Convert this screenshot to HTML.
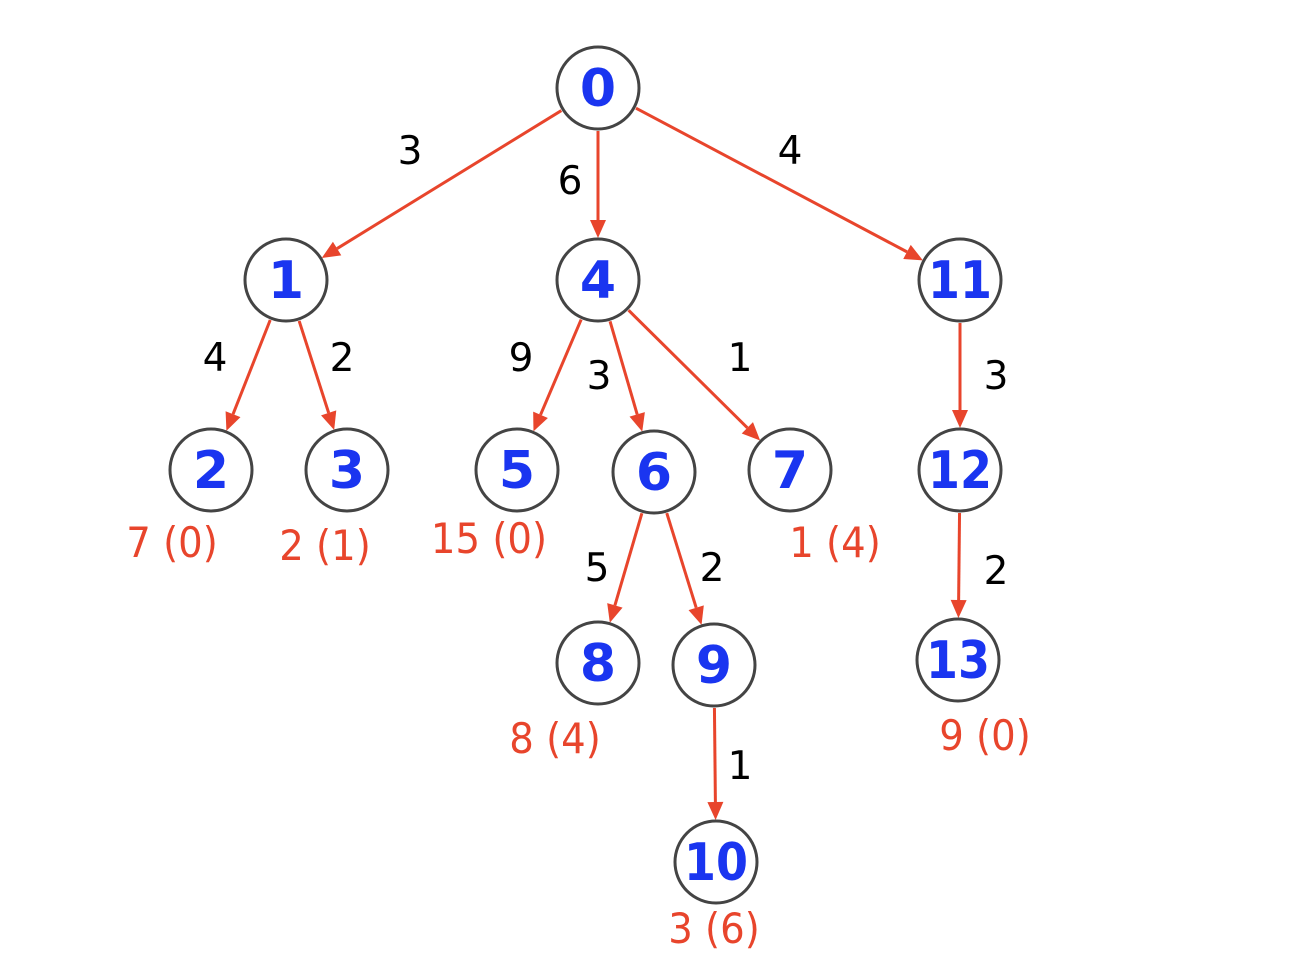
<!DOCTYPE html>
<html><head><meta charset="utf-8"><style>
html,body{margin:0;padding:0;background:#fff;width:1300px;height:979px;overflow:hidden}
svg text{font-family:"DejaVu Sans","Liberation Sans",sans-serif}
</style></head><body>
<svg id="s" width="1300" height="979" xmlns="http://www.w3.org/2000/svg"></svg>
<script>
var N={0:[598,88],1:[286,280],4:[598,280],11:[960,280],2:[211,470],3:[347,470],5:[517,470],6:[654,472],7:[790,470],12:[960,470],8:[598,663],9:[714,665],13:[958,660],10:[716,862]};
var R=41;
var E=[[0,1],[0,4],[0,11],[1,2],[1,3],[4,5],[4,6],[4,7],[11,12],[6,8],[6,9],[12,13],[9,10]];
var EL=[["3",410,150],["6",570,180],["4",790,150],["4",215,357],["2",342,357],["9",521,357],["3",599,375],["1",740,357],["3",996,375],["5",597,567],["2",712,567],["2",996,570],["1",740,765]];
var RL=[["7 (0)",172,542],["2 (1)",325,545],["15 (0)",489,538],["1 (4)",835,542],["8 (4)",555,738],["9 (0)",985,735],["3 (6)",714,928]];
var h='';
E.forEach(function(e){var a=N[e[0]],b=N[e[1]];var dx=b[0]-a[0],dy=b[1]-a[1],L=Math.hypot(dx,dy),ux=dx/L,uy=dy/L;
var x1=a[0]+ux*(R+2),y1=a[1]+uy*(R+2),tx=b[0]-ux*(R+1),ty=b[1]-uy*(R+1);
var bx=tx-ux*18,by=ty-uy*18,px=-uy*8,py=ux*8;
h+='<line x1="'+x1+'" y1="'+y1+'" x2="'+bx+'" y2="'+by+'" stroke="#e8452c" stroke-width="3"/>';
h+='<polygon points="'+tx+','+ty+' '+(bx+px)+','+(by+py)+' '+(bx-px)+','+(by-py)+'" fill="#e8452c"/>';});
for(var k in N){var p=N[k];h+='<circle cx="'+p[0]+'" cy="'+p[1]+'" r="'+R+'" fill="#fff" stroke="#444" stroke-width="3"/>';
h+='<text x="'+p[0]+'" y="'+(p[1]+18)+'" text-anchor="middle" font-size="52" font-weight="bold" fill="#1a35f0"'+(k.length>1?' textLength="64" lengthAdjust="spacingAndGlyphs"':'')+'>'+k+'</text>';}
EL.forEach(function(l){h+='<text x="'+l[1]+'" y="'+(l[2]+14)+'" text-anchor="middle" font-size="39" fill="#000">'+l[0]+'</text>';});
RL.forEach(function(l){h+='<text x="'+l[1]+'" y="'+(l[2]+15)+'" text-anchor="middle" font-size="42" fill="#e8452c" transform="translate('+l[1]+',0) scale(0.92,1) translate('+(-l[1])+',0)">'+l[0]+'</text>';});
document.getElementById('s').innerHTML=h;
</script>
</body></html>
